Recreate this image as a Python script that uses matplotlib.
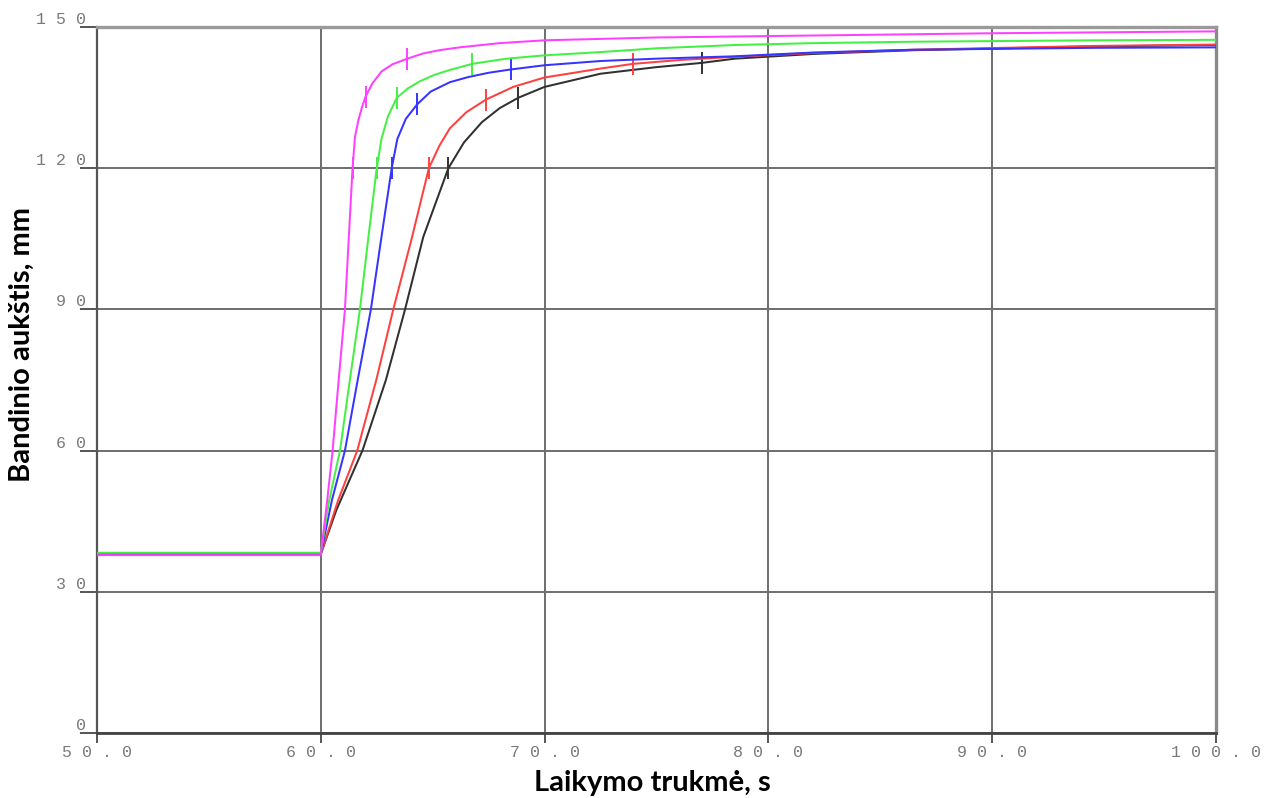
import matplotlib
matplotlib.use("Agg")
import matplotlib.pyplot as plt
from matplotlib.ticker import FuncFormatter

# curves: time (s) and height (mm)
magentaX = [50, 60, 60.29, 60.53, 60.8, 61.08, 61.25, 61.42, 61.53, 61.68, 61.85, 62.0, 62.3, 62.72, 63.2,
            63.87, 64.57, 65.3, 66.2, 68, 70, 75, 80, 90, 100]
magentaY = [37.8, 37.8, 49.5, 60, 75, 90, 105, 120, 126.7, 130.2, 133.1, 135.2, 138.0, 140.6, 142.1,
            143.3, 144.4, 145.1, 145.7, 146.6, 147.2, 147.8, 148.1, 148.7, 149.1]

greenX = [50, 60, 60.38, 60.86, 61.3, 61.75, 62.12, 62.5, 62.72, 63.0, 63.4, 63.9, 64.43, 65.1, 65.77,
          66.77, 68.3, 70, 72.5, 75, 78.5, 82, 86.5, 94.5, 100]
greenY = [38.3, 38.3, 49.5, 60, 75, 90, 105, 120, 126.4, 131.0, 135.0, 137.0, 138.5, 139.9, 140.9,
          142.2, 143.3, 144.0, 144.7, 145.5, 146.2, 146.6, 146.9, 147.2, 147.3]

blueX = [50, 60, 60.5, 61.08, 61.65, 62.24, 62.7, 63.17, 63.42, 63.8, 64.31, 64.91, 65.77, 66.6, 67.5,
         68.48, 70, 72.5, 75, 78.5, 82, 86.5, 94.5, 100]
blueY = [38.0, 38.0, 49.5, 60, 75, 90, 105, 120, 126.2, 130.5, 133.6, 136.3, 138.3, 139.4, 140.3,
         141.0, 141.9, 142.8, 143.3, 143.8, 144.6, 145.2, 145.6, 145.7]

redX = [50, 60, 60.78, 61.63, 62.48, 63.24, 64.06, 64.83, 65.3, 65.77, 66.5, 67.38, 68.6, 70, 72.5,
        73.96, 76, 78.5, 82, 86.5, 94.5, 100]
redY = [38, 38, 49.5, 60, 75, 90, 105, 120, 124.8, 128.5, 131.9, 134.6, 137.3, 139.3, 141.2,
        142.2, 143.0, 143.7, 144.5, 145.2, 146.0, 146.3]

blackX = [50, 60, 60.7, 61.87, 62.91, 63.76, 64.58, 65.7, 66.4, 67.2, 68.0, 68.83, 70, 72.5, 75,
          77.02, 78.5, 82, 86.5, 94.5, 100]
blackY = [38, 38, 47.4, 60.1, 75, 89.9, 105.4, 120, 125.5, 129.8, 132.8, 135.0, 137.3, 140.1, 141.5,
          142.4, 143.3, 144.3, 145.1, 145.9, 146.2]

# short vertical marks on each curve
magentaMarkX = [61.42, 62.0, 63.87]
magentaMarkY = [120, 135.2, 143.3]
greenMarkX = [62.5, 63.4, 66.77]
greenMarkY = [120, 135, 142.2]
blueMarkX = [63.17, 64.31, 68.48]
blueMarkY = [120, 133.6, 141.0]
redMarkX = [64.83, 67.38, 73.96]
redMarkY = [120, 134.6, 142.2]
blackMarkX = [65.7, 68.83, 77.02]
blackMarkY = [120, 135.0, 142.4]

xTicks = [50, 60, 70, 80, 90, 100]
yTicks = [0, 30, 60, 90, 120, 150]

series = [
  (blackX, blackY, blackMarkX, blackMarkY, "#303030"),
  (redX, redY, redMarkX, redMarkY, "#ff4040"),
  (blueX, blueY, blueMarkX, blueMarkY, "#3535ff"),
  (greenX, greenY, greenMarkX, greenMarkY, "#45f045"),
  (magentaX, magentaY, magentaMarkX, magentaMarkY, "#ff40ff"),
]

fig = plt.figure(figsize=(12.64, 7.98), dpi=100)
ax = fig.add_axes([0.0767, 0.0815, 0.8853, 0.8845])

for xs, ys, mx, my, col in series:
  ax.plot(xs, ys, color=col, lw=1.45, zorder=3, solid_joinstyle="round")
  ax.plot(mx, my, ls="none", marker="|", ms=16, mew=1.4, color=col, zorder=3)

ax.set_xlim(50, 100)
ax.set_ylim(0, 150)
ax.set_xticks(xTicks)
ax.set_yticks(yTicks)

ax.grid(True, color="#6e6e6e", lw=1.4)
ax.set_axisbelow(True)

def spaced(txt):
  return " ".join(txt)

ax.xaxis.set_major_formatter(FuncFormatter(lambda v, p: spaced("%.1f" % v)))
ax.yaxis.set_major_formatter(FuncFormatter(lambda v, p: spaced("%d" % v)))

ax.tick_params(axis="x", direction="out", length=7, width=1.4, color="#555555", pad=2,
               labelsize=12, labelcolor="#7a7a7a")
ax.tick_params(axis="y", direction="out", length=12, width=1.4, color="#555555", pad=-4,
               labelsize=12, labelcolor="#7a7a7a")
for lab in ax.get_xticklabels() + ax.get_yticklabels():
  lab.set_family("Liberation Mono")
for lab in ax.get_yticklabels():
  lab.set_verticalalignment("bottom")

ax.spines["left"].set_color("#555555")
ax.spines["left"].set_linewidth(1.6)
ax.spines["bottom"].set_color("#444444")
ax.spines["bottom"].set_linewidth(2.0)
ax.spines["top"].set_color("#9a9a9a")
ax.spines["top"].set_linewidth(2.4)
ax.spines["right"].set_color("#8a8a8a")
ax.spines["right"].set_linewidth(2.4)

fig.text(0.516, 0.019, "Laikymo trukmė, s", ha="center", va="center",
         fontsize=21, fontweight="bold", family="Lato")
fig.text(0.017, 0.568, "Bandinio aukštis, mm", ha="center", va="center", rotation=90,
         fontsize=21, fontweight="bold", family="Lato")

fig.savefig("out.png", dpi=100)
